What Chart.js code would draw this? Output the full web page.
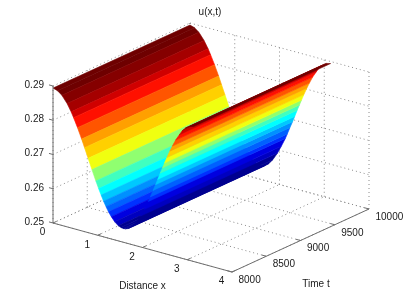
<!DOCTYPE html>
<html>
<head>
<meta charset="utf-8">
<title>u(x,t)</title>
<script src="https://cdn.jsdelivr.net/npm/chart.js@4"></script>
<style>
  html, body { margin: 0; padding: 0; background: #fff; }
  canvas { display: block; }
</style>
</head>
<body>
<canvas id="myChart" width="407" height="306"></canvas>
<script>
// values
const distanceX = [0, 0.1, 0.198, 0.315, 0.405, 0.46, 0.548, 0.64, 0.705, 0.785, 0.87, 0.958, 1.02, 1.075, 1.13, 1.185, 1.24, 1.303, 1.378, 1.46, 1.52, 1.571,
  1.622, 1.682, 1.764, 1.85, 1.955, 2.04, 2.13, 2.175, 2.235, 2.292, 2.34, 2.395, 2.445, 2.492, 2.545, 2.61, 2.668, 2.74, 2.82, 2.89, 2.96, 3.05, 3.142];
const surfaceU = [0.2894, 0.289, 0.288, 0.286, 0.2839, 0.2824, 0.2798, 0.2768, 0.2745, 0.2717, 0.2687, 0.2657, 0.2637, 0.262, 0.2604, 0.259, 0.2577, 0.2565, 0.2553, 0.2544, 0.2541, 0.254,
  0.2541, 0.2544, 0.2553, 0.2567, 0.259, 0.2613, 0.2639, 0.2654, 0.2675, 0.2694, 0.2711, 0.2731, 0.2748, 0.2764, 0.2782, 0.2803, 0.282, 0.284, 0.2858, 0.2873, 0.2883, 0.2891, 0.2894];
const timeRange = [8000, 10000];
const bandColors = ['#6e0000', '#850000', '#a50000', '#d00000', '#ff1000', '#ff5500', '#ffa000', '#ffd000', '#f0ff10', '#90ff70',
  '#40ffc0', '#00ffff', '#00c8ff', '#0090ff', '#0060ff', '#0030ff', '#0000e0', '#0000c0', '#000090'];
// which colour each strip between two neighbouring distanceX values gets
const stripBand = [0, 0, 1, 2, 3, 4, 5, 6, 7, 8, 9, 10, 11, 12, 13, 14, 15, 16, 17, 18, 18,
  18, 18, 18, 18, 18, 17, 16, 15, 14, 13, 12, 11, 10, 9, 8, 7, 6, 5, 4, 3, 2, 1, 0];

const xTicks = [0, 1, 2, 3, 4];
const xTickLabels = ['0', '1', '2', '3', '4'];
const timeTicks = [8000, 8500, 9000, 9500, 10000];
const timeTickLabels = ['8000', '8500', '9000', '9500', '10000'];
const uTicks = [0.25, 0.26, 0.27, 0.28, 0.29];
const uTickLabels = ['0.25', '0.26', '0.27', '0.28', '0.29'];

// the view of the box: 3d value -> position on the flat chart
function project(x, t, u) {
  const dt = (t - 8000) / 2000;
  return {
    x: 53 + 44.75 * x + 137 * dt,
    y: 223 + 12.25 * x - 63 * dt - 3425 * (u - 0.25)
  };
}

const datasets = [];

function addLine(a, b, color, dash, order) {
  datasets.push({
    data: [project(a[0], a[1], a[2]), project(b[0], b[1], b[2])],
    showLine: true,
    borderColor: color,
    borderWidth: 1,
    borderDash: dash,
    pointRadius: 0,
    fill: false,
    order: order
  });
}

// dotted grid on the floor and on the two back walls
const gridColor = '#8a8a8a';
const gridDash = [1, 3];
xTicks.forEach(function (x) {
  addLine([x, 8000, 0.25], [x, 10000, 0.25], gridColor, gridDash, 1000);
  addLine([x, 10000, 0.25], [x, 10000, 0.29], gridColor, gridDash, 1000);
});
timeTicks.forEach(function (t) {
  addLine([0, t, 0.25], [4, t, 0.25], gridColor, gridDash, 1000);
  addLine([0, t, 0.25], [0, t, 0.29], gridColor, gridDash, 1000);
});
uTicks.forEach(function (u) {
  addLine([0, 8000, u], [0, 10000, u], gridColor, gridDash, 1000);
  addLine([0, 10000, u], [4, 10000, u], gridColor, gridDash, 1000);
});

// surface, far strips first (bigger order is painted earlier)
for (let i = 0; i < distanceX.length - 1; i++) {
  const p1 = project(distanceX[i], timeRange[0], surfaceU[i]);
  const color = bandColors[stripBand[i]];
  datasets.push({
    data: [
      p1,
      project(distanceX[i], timeRange[1], surfaceU[i]),
      project(distanceX[i + 1], timeRange[1], surfaceU[i + 1]),
      project(distanceX[i + 1], timeRange[0], surfaceU[i + 1]),
      p1
    ],
    showLine: true,
    fill: 'shape',
    backgroundColor: color,
    borderColor: color,
    borderWidth: 0.6,
    pointRadius: 0,
    tension: 0,
    order: 500 - i
  });
}

// solid axes and their ticks
const axisColor = '#6e6e6e';
addLine([0, 8000, 0.25], [0, 8000, 0.29], axisColor, [], 1);
addLine([0, 8000, 0.25], [4, 8000, 0.25], axisColor, [], 1);
addLine([4, 8000, 0.25], [4, 10000, 0.25], axisColor, [], 1);
uTicks.forEach(function (u) {
  addLine([0, 8000, u], [-0.09, 8000, u], axisColor, [], 1);
});
xTicks.forEach(function (x) {
  addLine([x, 8000, 0.25], [x, 8050, 0.25], axisColor, [], 1);
});
timeTicks.forEach(function (t) {
  addLine([4, t, 0.25], [3.9, t, 0.25], axisColor, [], 1);
});

// tick labels and titles sit next to the projected ticks
const textPlugin = {
  id: 'boxText',
  afterDraw: function (chart) {
    const ctx = chart.ctx;
    const sx = chart.scales.x;
    const sy = chart.scales.y;
    function put(text, p, dx, dy, align) {
      ctx.textAlign = align;
      ctx.fillText(text, sx.getPixelForValue(p.x) + dx, sy.getPixelForValue(p.y) + dy);
    }
    ctx.save();
    ctx.fillStyle = '#1a1a1a';
    ctx.font = '10px "Liberation Sans", Arial, sans-serif';
    ctx.textBaseline = 'middle';
    uTicks.forEach(function (u, i) {
      put(uTickLabels[i], project(0, 8000, u), -9, -1, 'right');
    });
    xTicks.forEach(function (x, i) {
      put(xTickLabels[i], project(x, 8000, 0.25), -10.5, 9.5, 'center');
    });
    timeTicks.forEach(function (t, i) {
      put(timeTickLabels[i], project(4, t, 0.25), 6.5, 8, 'left');
    });
    put('Distance x', project(2, 8000, 0.25), 0, 38.5, 'center');
    put('Time t', project(4, 8000, 0.25), 84, 12, 'center');
    put('u(x,t)', project(0, 10000, 0.29), 20, -10.5, 'center');
    ctx.restore();
  }
};

new Chart(document.getElementById('myChart'), {
  type: 'scatter',
  data: { datasets: datasets },
  options: {
    responsive: false,
    animation: false,
    layout: { padding: 0 },
    plugins: { legend: { display: false }, tooltip: { enabled: false } },
    scales: {
      x: { type: 'linear', display: false, min: 0, max: 407 },
      y: { type: 'linear', display: false, min: 0, max: 306, reverse: true }
    }
  },
  plugins: [textPlugin]
});
</script>
</body>
</html>
